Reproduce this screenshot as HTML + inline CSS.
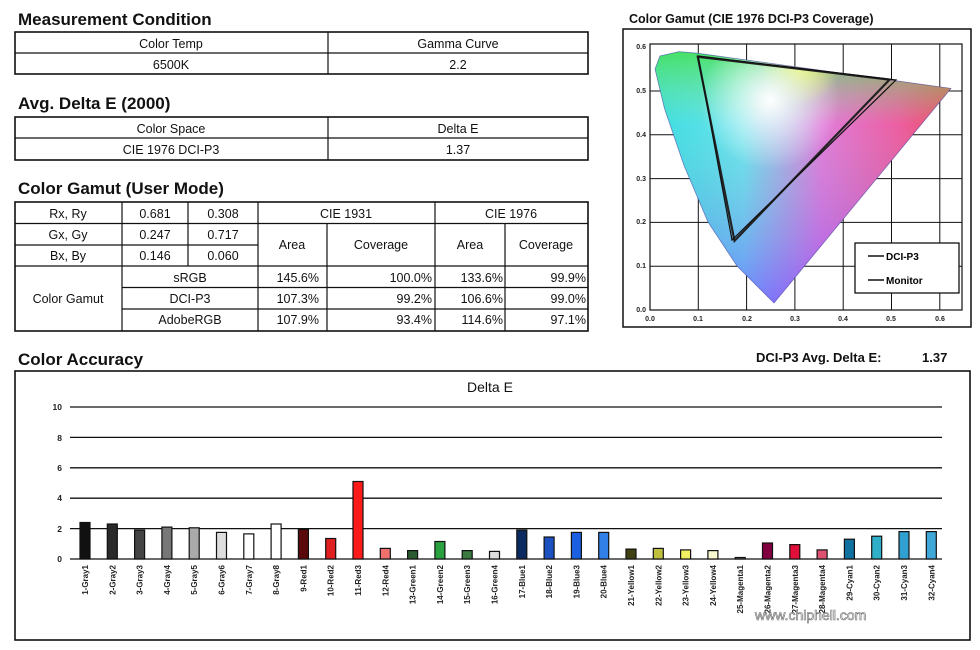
<!DOCTYPE html>
<html><head><meta charset="utf-8"><style>
html,body{margin:0;padding:0;background:#fff;width:980px;height:650px;overflow:hidden}
svg{display:block;font-family:"Liberation Sans",sans-serif}
.h{font-size:17px;font-weight:bold;fill:#111}
.t{font-size:12.5px;fill:#111}
.s{font-size:7px;font-weight:bold;fill:#222}
.b{font-size:8.5px;font-weight:bold;fill:#222}
</style></head><body>
<svg width="980" height="650" viewBox="0 0 980 650">
<defs>
<clipPath id="loc"><path d="M774,303 L737,266 L708,222 L684,165.5 L664.5,108.5 L655,69 L660,56 L679,51.6 L698,53.3 L951,88.4 Z"/></clipPath>
<linearGradient id="gx" x1="0" x2="1" y1="0" y2="0"><stop offset="0" stop-color="#20d8f0"/><stop offset="0.3" stop-color="#60e0ff"/><stop offset="0.55" stop-color="#f060e8"/><stop offset="0.8" stop-color="#ff3aa0"/><stop offset="1" stop-color="#ff2040"/></linearGradient>
<linearGradient id="gy" x1="0" x2="0" y1="0" y2="1"><stop offset="0" stop-color="#40e040" stop-opacity="0.9"/><stop offset="0.3" stop-color="#a0f0a0" stop-opacity="0.2"/><stop offset="1" stop-color="#7040ff" stop-opacity="0.6"/></linearGradient>
<radialGradient id="gw" cx="770" cy="100" r="70" gradientUnits="userSpaceOnUse"><stop offset="0" stop-color="#fff" stop-opacity="1"/><stop offset="1" stop-color="#fff" stop-opacity="0"/></radialGradient>
<radialGradient id="gyel" cx="800" cy="65" r="40" gradientUnits="userSpaceOnUse"><stop offset="0" stop-color="#ffff40" stop-opacity="0.8"/><stop offset="1" stop-color="#ffff40" stop-opacity="0"/></radialGradient>
</defs>

<text x="18" y="25" class="h">Measurement Condition</text>
<rect x="15" y="32" width="573" height="42" fill="none" stroke="#111" stroke-width="1.6"/>
<line x1="15" y1="53" x2="588" y2="53" stroke="#111" stroke-width="1.2"/>
<line x1="328" y1="32" x2="328" y2="74" stroke="#111" stroke-width="1.2"/>
<g class="t" text-anchor="middle"><text x="171" y="48">Color Temp</text><text x="458" y="48">Gamma Curve</text><text x="171" y="69">6500K</text><text x="458" y="69">2.2</text></g>

<text x="18" y="109" class="h">Avg. Delta E (2000)</text>
<rect x="15" y="117" width="573" height="43" fill="none" stroke="#111" stroke-width="1.6"/>
<line x1="15" y1="138" x2="588" y2="138" stroke="#111" stroke-width="1.2"/>
<line x1="328" y1="117" x2="328" y2="160" stroke="#111" stroke-width="1.2"/>
<g class="t" text-anchor="middle"><text x="171" y="133">Color Space</text><text x="458" y="133">Delta E</text><text x="171" y="154">CIE 1976 DCI-P3</text><text x="458" y="154">1.37</text></g>

<text x="18" y="194" class="h">Color Gamut (User Mode)</text>
<g stroke="#111" stroke-width="1.2" fill="none">
<rect x="15" y="202" width="573" height="129" stroke-width="1.6"/>
<line x1="15" y1="223.5" x2="258" y2="223.5"/><line x1="15" y1="245" x2="258" y2="245"/>
<line x1="15" y1="266" x2="588" y2="266"/><line x1="122" y1="287.5" x2="588" y2="287.5"/><line x1="122" y1="309" x2="588" y2="309"/>
<line x1="258" y1="223.5" x2="588" y2="223.5"/>
<line x1="122" y1="202" x2="122" y2="331"/><line x1="188" y1="202" x2="188" y2="266"/><line x1="258" y1="202" x2="258" y2="331"/>
<line x1="327" y1="223.5" x2="327" y2="331"/><line x1="435" y1="202" x2="435" y2="331"/><line x1="505" y1="223.5" x2="505" y2="331"/>
</g>
<g class="t">
<g text-anchor="middle"><text x="68" y="218">Rx, Ry</text><text x="68" y="239">Gx, Gy</text><text x="68" y="260">Bx, By</text><text x="68" y="303">Color Gamut</text>
<text x="155" y="218">0.681</text><text x="155" y="239">0.247</text><text x="155" y="260">0.146</text>
<text x="223" y="218">0.308</text><text x="223" y="239">0.717</text><text x="223" y="260">0.060</text>
<text x="346" y="218">CIE 1931</text><text x="511" y="218">CIE 1976</text>
<text x="292" y="249">Area</text><text x="381" y="249">Coverage</text><text x="470" y="249">Area</text><text x="546" y="249">Coverage</text>
<text x="190" y="282">sRGB</text><text x="190" y="303">DCI-P3</text><text x="190" y="324">AdobeRGB</text></g>
<g text-anchor="end"><text x="319" y="282">145.6%</text><text x="319" y="303">107.3%</text><text x="319" y="324">107.9%</text>
<text x="432" y="282">100.0%</text><text x="432" y="303">99.2%</text><text x="432" y="324">93.4%</text>
<text x="503" y="282">133.6%</text><text x="503" y="303">106.6%</text><text x="503" y="324">114.6%</text>
<text x="586" y="282">99.9%</text><text x="586" y="303">99.0%</text><text x="586" y="324">97.1%</text></g>
</g>

<text x="629" y="23" style="font-size:12.5px;font-weight:bold;fill:#111">Color Gamut (CIE 1976 DCI-P3 Coverage)</text>
<rect x="623" y="29" width="348" height="298" fill="none" stroke="#111" stroke-width="1.5"/>
<rect x="650" y="44" width="312" height="266" fill="none" stroke="#111" stroke-width="1.2"/>
<g stroke="#111" stroke-width="1">
<line x1="698.3" y1="44" x2="698.3" y2="310"/><line x1="746.6" y1="44" x2="746.6" y2="310"/><line x1="794.9" y1="44" x2="794.9" y2="310"/><line x1="843.2" y1="44" x2="843.2" y2="310"/><line x1="891.5" y1="44" x2="891.5" y2="310"/><line x1="939.8" y1="44" x2="939.8" y2="310"/>
<line x1="650" y1="266.2" x2="962" y2="266.2"/><line x1="650" y1="222.4" x2="962" y2="222.4"/><line x1="650" y1="178.6" x2="962" y2="178.6"/><line x1="650" y1="134.8" x2="962" y2="134.8"/><line x1="650" y1="91" x2="962" y2="91"/>
</g>
<g clip-path="url(#loc)">
<rect x="650" y="44" width="312" height="266" fill="url(#gx)"/>
<rect x="650" y="44" width="312" height="266" fill="url(#gy)"/>
<rect x="650" y="44" width="312" height="266" fill="url(#gyel)"/>
<rect x="650" y="44" width="312" height="266" fill="url(#gw)"/>
</g>
<path d="M774,303 L737,266 L708,222 L684,165.5 L664.5,108.5 L655,69 L660,56 L679,51.6 L698,53.3 L951,88.4 Z" fill="none" stroke="#4040a0" stroke-width="0.8" stroke-opacity="0.6"/>
<polygon points="889.6,79.6 697.8,56.8 734.5,240.8" fill="none" stroke="#222" stroke-width="2.2"/>
<polygon points="896,80 698,56 732,240" fill="none" stroke="#111" stroke-width="1.2"/>
<g class="s" text-anchor="end"><text x="646" y="312">0.0</text><text x="646" y="268">0.1</text><text x="646" y="224">0.2</text><text x="646" y="181">0.3</text><text x="646" y="137">0.4</text><text x="646" y="93">0.5</text><text x="646" y="49">0.6</text></g>
<g class="s" text-anchor="middle"><text x="650" y="321">0.0</text><text x="698" y="321">0.1</text><text x="747" y="321">0.2</text><text x="795" y="321">0.3</text><text x="843" y="321">0.4</text><text x="891" y="321">0.5</text><text x="940" y="321">0.6</text></g>
<rect x="855" y="243" width="104" height="50" fill="#fff" stroke="#111" stroke-width="1.3"/>
<line x1="868" y1="256" x2="884" y2="256" stroke="#111" stroke-width="1.5"/><line x1="868" y1="280" x2="884" y2="280" stroke="#111" stroke-width="1.5"/>
<text x="886" y="260" style="font-size:10px;font-weight:bold">DCI-P3</text><text x="886" y="284" style="font-size:10px;font-weight:bold">Monitor</text>

<text x="18" y="365" class="h">Color Accuracy</text>
<text x="756" y="362" style="font-size:13px;font-weight:bold;fill:#111">DCI-P3 Avg. Delta E:</text>
<text x="922" y="362" style="font-size:13px;font-weight:bold;fill:#111">1.37</text>
<rect x="15" y="371" width="955" height="269" fill="none" stroke="#111" stroke-width="1.6"/>
<text x="490" y="392" text-anchor="middle" style="font-size:14px;fill:#111">Delta E</text>
<g stroke="#111" stroke-width="1.3">
<line x1="70" y1="407" x2="942" y2="407"/><line x1="70" y1="437.4" x2="942" y2="437.4"/><line x1="70" y1="467.8" x2="942" y2="467.8"/><line x1="70" y1="498.2" x2="942" y2="498.2"/><line x1="70" y1="528.6" x2="942" y2="528.6"/><line x1="70" y1="559" x2="942" y2="559"/>
</g>
<g class="b" text-anchor="end"><text x="62" y="410">10</text><text x="62" y="441">8</text><text x="62" y="471">6</text><text x="62" y="501">4</text><text x="62" y="532">2</text><text x="62" y="562">0</text></g>
<g stroke="#111" stroke-width="1.2">
<g transform="translate(85,559)"><rect x="-5" y="-36.5" width="10" height="36.5" fill="#111"/></g>
<g transform="translate(112.3,559)"><rect x="-5" y="-35" width="10" height="35" fill="#2a2a2a"/></g>
<g transform="translate(139.6,559)"><rect x="-5" y="-28.9" width="10" height="28.9" fill="#444"/></g>
<g transform="translate(166.9,559)"><rect x="-5" y="-31.9" width="10" height="31.9" fill="#777"/></g>
<g transform="translate(194.2,559)"><rect x="-5" y="-31.2" width="10" height="31.2" fill="#aaa"/></g>
<g transform="translate(221.5,559)"><rect x="-5" y="-26.6" width="10" height="26.6" fill="#ddd"/></g>
<g transform="translate(248.8,559)"><rect x="-5" y="-25.1" width="10" height="25.1" fill="#fff"/></g>
<g transform="translate(276.1,559)"><rect x="-5" y="-35" width="10" height="35" fill="#fff"/></g>
<g transform="translate(303.4,559)"><rect x="-5" y="-29.6" width="10" height="29.6" fill="#5a0a0a"/></g>
<g transform="translate(330.7,559)"><rect x="-5" y="-20.5" width="10" height="20.5" fill="#e02020"/></g>
<g transform="translate(358,559)"><rect x="-5" y="-77.5" width="10" height="77.5" fill="#ff1a1a"/></g>
<g transform="translate(385.3,559)"><rect x="-5" y="-10.6" width="10" height="10.6" fill="#f07070"/></g>
<g transform="translate(412.6,559)"><rect x="-5" y="-8.4" width="10" height="8.4" fill="#2a5a30"/></g>
<g transform="translate(439.9,559)"><rect x="-5" y="-17.5" width="10" height="17.5" fill="#2aa040"/></g>
<g transform="translate(467.2,559)"><rect x="-5" y="-8.4" width="10" height="8.4" fill="#3a7a40"/></g>
<g transform="translate(494.5,559)"><rect x="-5" y="-7.6" width="10" height="7.6" fill="#ddd"/></g>
<g transform="translate(521.8,559)"><rect x="-5" y="-28.9" width="10" height="28.9" fill="#0a2a60"/></g>
<g transform="translate(549.1,559)"><rect x="-5" y="-22" width="10" height="22" fill="#1a50c0"/></g>
<g transform="translate(576.4,559)"><rect x="-5" y="-26.6" width="10" height="26.6" fill="#1a60e0"/></g>
<g transform="translate(603.7,559)"><rect x="-5" y="-26.6" width="10" height="26.6" fill="#3080e8"/></g>
<g transform="translate(631,559)"><rect x="-5" y="-9.9" width="10" height="9.9" fill="#404010"/></g>
<g transform="translate(658.3,559)"><rect x="-5" y="-10.6" width="10" height="10.6" fill="#c0c040"/></g>
<g transform="translate(685.6,559)"><rect x="-5" y="-9.1" width="10" height="9.1" fill="#f0f060"/></g>
<g transform="translate(712.9,559)"><rect x="-5" y="-8.4" width="10" height="8.4" fill="#f8f8d0"/></g>
<g transform="translate(740.2,559)"><rect x="-5" y="-1.5" width="10" height="1.5" fill="#888"/></g>
<g transform="translate(767.5,559)"><rect x="-5" y="-16" width="10" height="16" fill="#800040"/></g>
<g transform="translate(794.8,559)"><rect x="-5" y="-14.4" width="10" height="14.4" fill="#e0103a"/></g>
<g transform="translate(822.1,559)"><rect x="-5" y="-9.1" width="10" height="9.1" fill="#e05070"/></g>
<g transform="translate(849.4,559)"><rect x="-5" y="-19.8" width="10" height="19.8" fill="#1070a0"/></g>
<g transform="translate(876.7,559)"><rect x="-5" y="-22.8" width="10" height="22.8" fill="#30b0c8"/></g>
<g transform="translate(904,559)"><rect x="-5" y="-27.4" width="10" height="27.4" fill="#30a0d0"/></g>
<g transform="translate(931.3,559)"><rect x="-5" y="-27.4" width="10" height="27.4" fill="#40a8d8"/></g>
</g>
<g class="b" text-anchor="end" style="font-size:8px">
<text transform="translate(88,565) rotate(-90)">1-Gray1</text>
<text transform="translate(115.3,565) rotate(-90)">2-Gray2</text>
<text transform="translate(142.6,565) rotate(-90)">3-Gray3</text>
<text transform="translate(169.9,565) rotate(-90)">4-Gray4</text>
<text transform="translate(197.2,565) rotate(-90)">5-Gray5</text>
<text transform="translate(224.5,565) rotate(-90)">6-Gray6</text>
<text transform="translate(251.8,565) rotate(-90)">7-Gray7</text>
<text transform="translate(279.1,565) rotate(-90)">8-Gray8</text>
<text transform="translate(306.4,565) rotate(-90)">9-Red1</text>
<text transform="translate(333.7,565) rotate(-90)">10-Red2</text>
<text transform="translate(361,565) rotate(-90)">11-Red3</text>
<text transform="translate(388.3,565) rotate(-90)">12-Red4</text>
<text transform="translate(415.6,565) rotate(-90)">13-Green1</text>
<text transform="translate(442.9,565) rotate(-90)">14-Green2</text>
<text transform="translate(470.2,565) rotate(-90)">15-Green3</text>
<text transform="translate(497.5,565) rotate(-90)">16-Green4</text>
<text transform="translate(524.8,565) rotate(-90)">17-Blue1</text>
<text transform="translate(552.1,565) rotate(-90)">18-Blue2</text>
<text transform="translate(579.4,565) rotate(-90)">19-Blue3</text>
<text transform="translate(606.7,565) rotate(-90)">20-Blue4</text>
<text transform="translate(634,565) rotate(-90)">21-Yellow1</text>
<text transform="translate(661.3,565) rotate(-90)">22-Yellow2</text>
<text transform="translate(688.6,565) rotate(-90)">23-Yellow3</text>
<text transform="translate(715.9,565) rotate(-90)">24-Yellow4</text>
<text transform="translate(743.2,565) rotate(-90)">25-Magenta1</text>
<text transform="translate(770.5,565) rotate(-90)">26-Magenta2</text>
<text transform="translate(797.8,565) rotate(-90)">27-Magenta3</text>
<text transform="translate(825.1,565) rotate(-90)">28-Magenta4</text>
<text transform="translate(852.4,565) rotate(-90)">29-Cyan1</text>
<text transform="translate(879.7,565) rotate(-90)">30-Cyan2</text>
<text transform="translate(907,565) rotate(-90)">31-Cyan3</text>
<text transform="translate(934.3,565) rotate(-90)">32-Cyan4</text>
</g>
<text x="755" y="620" style="font-size:14px;fill:#fff;stroke:#666;stroke-width:0.6">www.chiphell.com</text>
</svg>
</body></html>
